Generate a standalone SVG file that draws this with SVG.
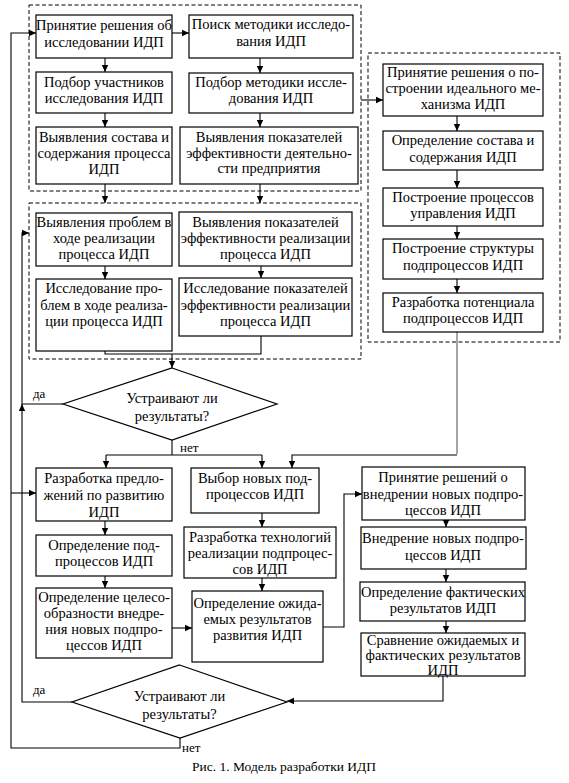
<svg xmlns="http://www.w3.org/2000/svg" width="569" height="783" viewBox="0 0 569 783">
<style>
.b{fill:#fff;stroke:#000;stroke-width:1.2}
.d{fill:none;stroke:#000;stroke-width:1;stroke-dasharray:4,2.5}
.c{fill:none;stroke:#000;stroke-width:1.1}
.g{fill:none;stroke:#808080;stroke-width:1.4}
.t text{text-anchor:middle}
</style>
<defs>
<marker id="a" markerWidth="8" markerHeight="8" refX="7" refY="4" orient="auto" markerUnits="userSpaceOnUse">
<path d="M0,0.8 L7,4 L0,7.2 Z" fill="#000"/>
</marker>
</defs>
<rect x="0" y="0" width="569" height="783" fill="#fff"/>

<g id="groups">
<rect class="d" x="29" y="5" width="332" height="186"/>
<rect class="d" x="29" y="203" width="332" height="156"/>
<rect class="d" x="368" y="53" width="192" height="289"/>
</g>

<g id="connectors">
<path class="c" d="M172,33 H189" marker-end="url(#a)"/>
<path class="c" d="M105,58 V72" marker-end="url(#a)"/>
<path class="c" d="M105,113 V127" marker-end="url(#a)"/>
<path class="c" d="M260,58 V73" marker-end="url(#a)"/>
<path class="c" d="M260,113 V127" marker-end="url(#a)"/>
<path class="c" d="M105,184 V203" marker-end="url(#a)"/>
<path class="c" d="M260,184 V203" marker-end="url(#a)"/>
<path class="c" d="M361,100 H383" marker-end="url(#a)"/>
<path class="c" d="M457,116 V131" marker-end="url(#a)"/>
<path class="c" d="M457,170 V188" marker-end="url(#a)"/>
<path class="c" d="M457,226 V239" marker-end="url(#a)"/>
<path class="c" d="M457,279 V293" marker-end="url(#a)"/>
<path class="c" d="M105,266 V279" marker-end="url(#a)"/>
<path class="c" d="M261,266 V278" marker-end="url(#a)"/>
<path class="c" d="M105,351 V354 H261 V336"/>
<path class="c" d="M172,354 V368" marker-end="url(#a)"/>
<path class="c" d="M172,440 V455"/>
<path class="c" d="M106,455 H262"/>
<path class="c" d="M106,455 V468" marker-end="url(#a)"/>
<path class="c" d="M262,455 V468" marker-end="url(#a)"/>
<path class="g" d="M457,332 V454"/>
<path class="c" d="M457,455 H292 V468" marker-end="url(#a)"/>
<path class="c" d="M63,404 H22 V233 H29" marker-end="url(#a)"/>
<path class="c" d="M72,702 H22 V404" marker-end="url(#a)"/>
<path class="c" d="M105,521 V535" marker-end="url(#a)"/>
<path class="c" d="M105,576 V588" marker-end="url(#a)"/>
<path class="c" d="M172,628 H192" marker-end="url(#a)"/>
<path class="c" d="M262,513 V527" marker-end="url(#a)"/>
<path class="c" d="M262,578 V591" marker-end="url(#a)"/>
<path class="c" d="M323,627 H344 V494 H362" marker-end="url(#a)"/>
<path class="c" d="M446,520 V527" marker-end="url(#a)"/>
<path class="c" d="M446,569 V582" marker-end="url(#a)"/>
<path class="c" d="M446,621 V633" marker-end="url(#a)"/>
<path class="c" d="M443,676 V701 H287" marker-end="url(#a)"/>
<path class="c" d="M180,738 V748 H11 V33 H36" marker-end="url(#a)"/>
<path class="c" d="M11,493 H36" marker-end="url(#a)"/>
</g>

<g font-family="'Liberation Serif', 'Times New Roman', 'DejaVu Serif', serif" font-size="14.5" fill="#000">
<g id="A1" class="t"><rect class="b" x="36" y="15" width="136" height="43"/><text x="104" y="30">Принятие решения об</text><text x="104" y="47">исследовании ИДП</text></g>
<g id="A2" class="t"><rect class="b" x="36" y="72" width="136" height="41"/><text x="104" y="87">Подбор участников</text><text x="104" y="103">исследования ИДП</text></g>
<g id="A3" class="t"><rect class="b" x="36" y="127" width="136" height="57"/><text x="104" y="142">Выявления состава и</text><text x="104" y="158">содержания процесса</text><text x="104" y="174">ИДП</text></g>

<g id="B1" class="t"><rect class="b" x="189" y="15" width="164" height="43"/><text x="271" y="29">Поиск методики исследо-</text><text x="271" y="46">вания ИДП</text></g>
<g id="B2" class="t"><rect class="b" x="189" y="73" width="164" height="40"/><text x="271" y="87">Подбор методики иссле-</text><text x="271" y="103">дования ИДП</text></g>
<g id="B3" class="t"><rect class="b" x="180" y="127" width="178" height="57"/><text x="269" y="142">Выявления показателей</text><text x="269" y="158">эффективности деятельно-</text><text x="269" y="173">сти предприятия</text></g>

<g id="G1" class="t"><rect class="b" x="383" y="64" width="160" height="52"/><text x="463" y="77">Принятие решения о по-</text><text x="463" y="93">строении идеального ме-</text><text x="463" y="109">ханизма ИДП</text></g>
<g id="G2" class="t"><rect class="b" x="383" y="131" width="160" height="39"/><text x="463" y="145">Определение состава и</text><text x="463" y="162">содержания ИДП</text></g>
<g id="G3" class="t"><rect class="b" x="383" y="188" width="160" height="38"/><text x="463" y="202">Построение процессов</text><text x="463" y="218">управления ИДП</text></g>
<g id="G4" class="t"><rect class="b" x="383" y="239" width="160" height="40"/><text x="463" y="253">Построение структуры</text><text x="463" y="270">подпроцессов ИДП</text></g>
<g id="G5" class="t"><rect class="b" x="383" y="293" width="160" height="39"/><text x="463" y="307">Разработка потенциала</text><text x="463" y="323">подпроцессов ИДП</text></g>

<g id="D1" class="t"><rect class="b" x="36" y="213" width="136" height="53"/><text x="104" y="227">Выявления проблем в</text><text x="104" y="243">ходе реализации</text><text x="104" y="259">процесса ИДП</text></g>
<g id="D2" class="t"><rect class="b" x="36" y="279" width="136" height="72"/><text x="104" y="293">Исследование про-</text><text x="104" y="310">блем в ходе реализа-</text><text x="104" y="326">ции процесса ИДП</text></g>
<g id="E1" class="t"><rect class="b" x="179" y="212" width="173" height="54"/><text x="265.5" y="227">Выявления показателей</text><text x="265.5" y="243">эффективности реализации</text><text x="265.5" y="259">процесса ИДП</text></g>
<g id="E2" class="t"><rect class="b" x="179" y="278" width="173" height="58"/><text x="265.5" y="293">Исследование показателей</text><text x="265.5" y="310">эффективности реализации</text><text x="265.5" y="326">процесса ИДП</text></g>

<g id="Q1" class="t"><path class="b" d="M172,368 L277,404 L172,440 L63,404 Z"/><text x="172" y="403">Устраивают ли</text><text x="172" y="421">результаты?</text></g>
<text x="33" y="398" font-size="13">да</text>
<text x="180" y="452" font-size="13">нет</text>

<g id="C1" class="t"><rect class="b" x="36" y="468" width="136" height="53"/><text x="104" y="483">Разработка предло-</text><text x="104" y="500">жений по развитию</text><text x="104" y="517">ИДП</text></g>
<g id="C2" class="t"><rect class="b" x="36" y="535" width="136" height="41"/><text x="104" y="550">Определение под-</text><text x="104" y="566">процессов ИДП</text></g>
<g id="C3" class="t"><rect class="b" x="36" y="588" width="136" height="70"/><text x="104" y="602">Определение целесо-</text><text x="104" y="618">образности внедре-</text><text x="104" y="634">ния новых подпро-</text><text x="104" y="650">цессов ИДП</text></g>

<g id="F1" class="t"><rect class="b" x="191" y="468" width="128" height="45"/><text x="255" y="483">Выбор новых под-</text><text x="255" y="499">процессов ИДП</text></g>
<g id="F2" class="t"><rect class="b" x="184" y="527" width="152" height="51"/><text x="260" y="542">Разработка технологий</text><text x="260" y="558">реализации подпроцес-</text><text x="260" y="574">сов ИДП</text></g>
<g id="F3" class="t"><rect class="b" x="192" y="591" width="131" height="71"/><text x="257.5" y="608">Определение ожида-</text><text x="257.5" y="624">емых результатов</text><text x="257.5" y="640">развития ИДП</text></g>

<g id="H1" class="t"><rect class="b" x="362" y="467" width="163" height="53"/><text x="443" y="482">Принятие решений о</text><text x="443" y="499">внедрении новых подпро-</text><text x="443" y="515">цессов ИДП</text></g>
<g id="H2" class="t"><rect class="b" x="361" y="527" width="165" height="42"/><text x="443" y="543">Внедрение новых подпро-</text><text x="443" y="560">цессов ИДП</text></g>
<g id="H3" class="t"><rect class="b" x="360" y="582" width="165" height="39"/><text x="443" y="597">Определение фактических</text><text x="443" y="613">результатов ИДП</text></g>
<g id="H4" class="t"><rect class="b" x="361" y="633" width="164" height="43"/><text x="443" y="645">Сравнение ожидаемых и</text><text x="443" y="660">фактических результатов</text><text x="443" y="675">ИДП</text></g>

<g id="Q2" class="t"><path class="b" d="M179.5,665 L287,702 L180,738 L72,702 Z"/><text x="179.5" y="701">Устраивают ли</text><text x="179.5" y="719">результаты?</text></g>
<text x="33" y="694" font-size="13">да</text>
<text x="182" y="752" font-size="13">нет</text>

<text x="284" y="771" text-anchor="middle" font-size="13.5">Рис. 1. Модель разработки ИДП</text>
</g>
</svg>
